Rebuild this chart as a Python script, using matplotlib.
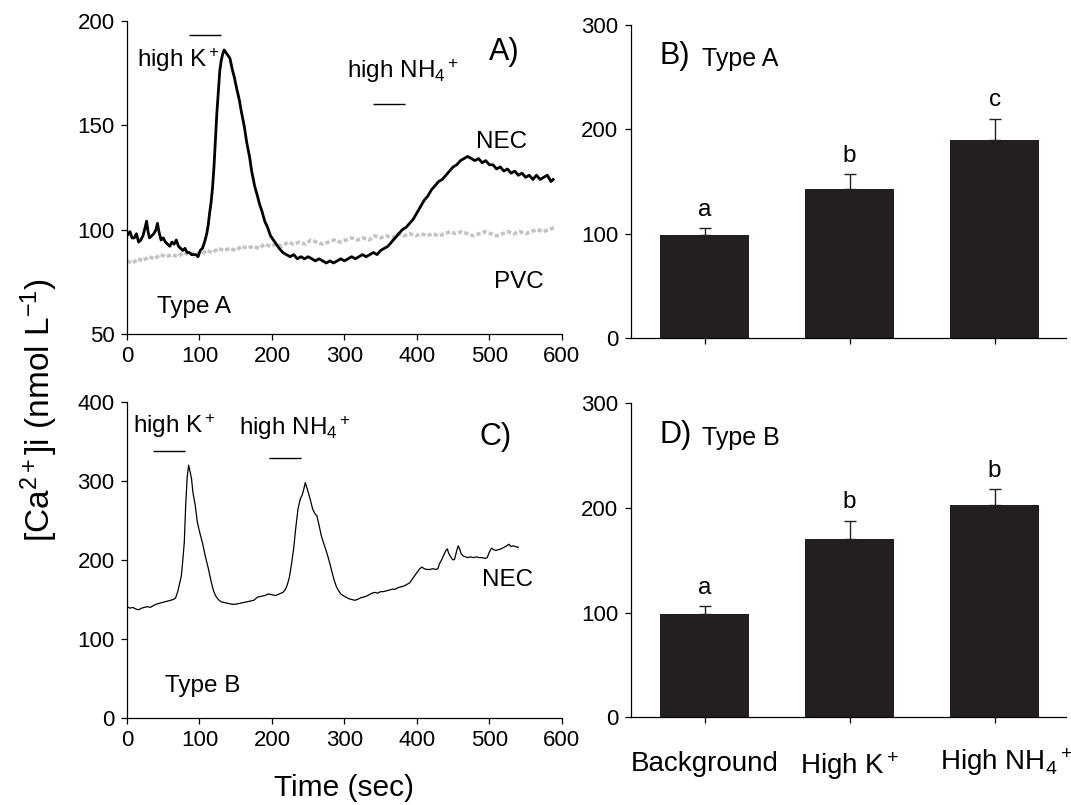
import numpy as np
import matplotlib.pyplot as plt
from matplotlib.transforms import ScaledTranslation

plt.rcParams["font.family"] = ["Liberation Sans", "DejaVu Sans"]
plt.rcParams["mathtext.fontset"] = "custom"
plt.rcParams["mathtext.rm"] = "Liberation Sans"
plt.rcParams["mathtext.it"] = "Liberation Sans:italic"
plt.rcParams["mathtext.default"] = "regular"

# Panel A: Type A cell, NEC (black) and PVC (grey) traces
time_a = [0, 4, 7, 10, 13, 16, 19, 22, 25, 27, 29, 31, 34, 37, 40, 42, 44, 47, 50, 53,
          56, 59, 62, 65, 68, 71, 74, 77, 80, 83, 86, 89, 92, 95, 98, 101, 104, 107, 110, 112,
          114, 116, 118, 120, 122, 124, 126, 128, 130, 132, 134, 136, 138, 140, 142, 145, 148, 151, 155, 158,
          162, 165, 169, 172, 176, 180, 183, 186, 190, 194, 198, 202, 206, 210, 215, 220, 225, 230, 235, 240,
          245, 250, 255, 260, 265, 270, 275, 280, 285, 290, 295, 300, 305, 310, 315, 320, 325, 330, 335, 340,
          345, 350, 355, 360, 365, 370, 375, 380, 385, 390, 395, 400, 405, 410, 415, 420, 425, 430, 435, 440,
          445, 450, 455, 460, 465, 470, 475, 480, 485, 490, 495, 500, 505, 510, 515, 520, 525, 530, 535, 540,
          545, 550, 555, 560, 565, 570, 575, 580, 585, 588]
nec_a = [97, 99, 96, 96, 98, 94, 95, 97, 101, 104, 99, 96, 97, 98, 100, 103, 99, 95, 96, 94,
         93, 92, 94, 93, 95, 92, 91, 90, 91, 89, 89, 88, 88, 88, 87, 90, 91, 94, 98, 102,
         108, 113, 120, 130, 143, 156, 166, 176, 181, 184, 186, 185, 184, 183, 182, 177, 173, 168, 162, 156,
         149, 142, 135, 128, 121, 116, 112, 109, 104, 101, 97, 95, 93, 91, 89, 88, 87, 88, 86, 87,
         86, 87, 86, 85, 86, 85, 84, 85, 84, 85, 86, 85, 86, 87, 86, 87, 88, 87, 88, 89,
         88, 90, 91, 92, 94, 96, 98, 100, 101, 103, 105, 108, 111, 114, 116, 119, 121, 123, 124, 126,
         128, 130, 131, 133, 134, 135, 134, 133, 134, 132, 133, 131, 131, 129, 130, 128, 129, 127, 128, 126,
         127, 125, 126, 124, 126, 124, 125, 126, 123, 124]
time_pvc = [0, 8, 15, 22, 30, 38, 46, 54, 62, 70, 78, 86, 94, 102, 110, 118, 126, 134, 142, 150,
            158, 166, 174, 182, 190, 198, 206, 214, 222, 230, 238, 246, 254, 262, 270, 278, 286, 294, 302, 310,
            318, 326, 334, 342, 350, 358, 366, 374, 382, 390, 398, 406, 414, 422, 430, 438, 446, 454, 462, 470,
            478, 486, 494, 502, 510, 518, 526, 534, 542, 550, 558, 566, 574, 582, 590]
pvc_a = [85, 84, 86, 85, 87, 86, 88, 87, 88, 87, 89, 88, 89, 88, 90, 89, 91, 90, 91, 90,
         92, 91, 92, 91, 93, 92, 93, 92, 94, 93, 94, 93, 95, 94, 93, 94, 95, 94, 95, 96,
         95, 96, 95, 97, 96, 97, 96, 98, 97, 98, 97, 98, 97, 98, 97, 98, 99, 98, 99, 98,
         97, 98, 99, 98, 97, 98, 99, 98, 99, 98, 99, 100, 99, 100, 101]

# Panel C: Type B cell, NEC trace
time_c = [0, 4, 8, 12, 16, 20, 24, 28, 32, 36, 40, 44, 48, 52, 56, 60, 64, 67, 70, 73,
          75, 77, 79, 81, 83, 85, 87, 89, 91, 94, 97, 100, 104, 108, 112, 116, 119, 122, 126, 130,
          135, 140, 145, 150, 155, 160, 165, 170, 175, 180, 185, 190, 195, 200, 205, 210, 215, 218, 221, 224,
          227, 230, 233, 236, 239, 242, 244, 246, 248, 250, 253, 256, 259, 262, 265, 268, 271, 274, 277, 280,
          283, 286, 289, 292, 295, 298, 302, 306, 310, 314, 318, 322, 326, 330, 334, 338, 342, 346, 350, 354,
          358, 362, 366, 370, 374, 378, 382, 386, 390, 393, 396, 400, 404, 407, 410, 414, 418, 422, 426, 429,
          431, 434, 437, 440, 442, 444, 446, 448, 450, 452, 455, 457, 459, 461, 464, 467, 470, 474, 478, 482,
          486, 490, 494, 497, 500, 503, 506, 509, 512, 516, 520, 524, 527, 530, 533, 536, 540]
nec_c = [141, 139, 140, 138, 137, 139, 140, 141, 140, 142, 144, 145, 146, 147, 148, 149, 150, 152, 160, 172,
         180, 200, 222, 270, 305, 320, 312, 303, 285, 270, 248, 236, 222, 205, 190, 173, 162, 155, 150, 147,
         146, 145, 144, 144, 145, 146, 147, 148, 149, 153, 154, 155, 157, 156, 155, 157, 159, 162, 168, 178,
         195, 215, 242, 265, 277, 283, 290, 298, 292, 286, 276, 265, 259, 256, 244, 231, 222, 214, 205, 195,
         184, 174, 166, 161, 157, 155, 153, 151, 150, 149, 150, 152, 153, 154, 156, 158, 159, 158, 160, 160,
         161, 162, 163, 163, 165, 166, 167, 169, 171, 175, 179, 184, 189, 191, 189, 188, 188, 189, 188, 189,
         195, 200, 206, 212, 214, 208, 205, 202, 200, 201, 212, 218, 214, 208, 205, 204, 203, 204, 203, 204,
         203, 203, 202, 203, 210, 215, 213, 212, 213, 214, 216, 218, 220, 217, 218, 217, 216]

# stimulus periods (sec)
stim_a = {"K": (86, 130), "NH4": (339, 383)}
stim_c = {"K": (36, 80), "NH4": (196, 240)}

# Panels B and D: mean [Ca2+]i
categories = ["Background", "High K$^+$", "High NH$_4$$^+$"]
type_a_mean = [99, 143, 190]
type_a_err = [6, 14, 20]
type_a_sig = ["a", "b", "c"]
type_b_mean = [99, 170, 203]
type_b_err = [7, 18, 15]
type_b_sig = ["a", "b", "b"]

fig = plt.figure(figsize=(10.71, 8.05), dpi=100)
ax_a = fig.add_axes([0.1186, 0.5851, 0.406, 0.3892])
ax_c = fig.add_axes([0.1186, 0.1081, 0.406, 0.3925])
ax_b = fig.add_axes([0.589, 0.5801, 0.406, 0.389])
ax_d = fig.add_axes([0.589, 0.1090, 0.406, 0.390])

fs_tick = 16
fs_note = 17.5

for ax in (ax_a, ax_b, ax_c, ax_d):
    for s in ("top", "right"):
        ax.spines[s].set_visible(False)
    for s in ("left", "bottom"):
        ax.spines[s].set_linewidth(0.9)
    ax.tick_params(direction="out", length=4, width=0.9, labelsize=fs_tick, pad=5)

# --- A
ax_a.plot(time_pvc, pvc_a, color="#c4c4c4", lw=2.6, ls=(0, (1.2, 0.6)))
ax_a.plot(time_a, nec_a, color="black", lw=2.0)
ax_a.set_xlim(0, 600)
ax_a.set_ylim(50, 200)
ax_a.set_xticks(np.arange(0, 601, 100))
ax_a.set_yticks([50, 100, 150, 200])
ax_a.hlines(193, *stim_a["K"], color="black", lw=1)
ax_a.hlines(160, *stim_a["NH4"], color="black", lw=1)
ax_a.text(14, 181, "high K$^+$", fontsize=fs_note, va="center")
ax_a.text(303, 176, "high NH$_4$$^+$", fontsize=fs_note, va="center")
ax_a.text(499, 185, "A)", fontsize=22, va="center")
ax_a.text(517, 142, "NEC", fontsize=fs_note, ha="center", va="center")
ax_a.text(541, 75, "PVC", fontsize=fs_note, ha="center", va="center")
ax_a.text(93, 63, "Type A", fontsize=fs_note, ha="center", va="center")

# --- C
ax_c.plot(time_c, nec_c, color="black", lw=0.9)
ax_c.set_xlim(0, 600)
ax_c.set_ylim(0, 400)
ax_c.set_xticks(np.arange(0, 601, 100))
ax_c.set_yticks(np.arange(0, 401, 100))
ax_c.hlines(338, *stim_c["K"], color="black", lw=1)
ax_c.hlines(329, *stim_c["NH4"], color="black", lw=1)
ax_c.text(8, 369, "high K$^+$", fontsize=fs_note, va="center")
ax_c.text(155, 367, "high NH$_4$$^+$", fontsize=fs_note, va="center")
ax_c.text(486, 356, "C)", fontsize=22, va="center")
ax_c.text(525, 175, "NEC", fontsize=fs_note, ha="center", va="center")
ax_c.text(104, 40, "Type B", fontsize=fs_note, ha="center", va="center")
ax_c.set_xlabel("Time (sec)", fontsize=21.5, labelpad=16)

fig.text(0.037, 0.49, "[Ca$^{2+}$]i (nmol L$^{-1}$)", rotation=90,
         fontsize=24, ha="center", va="center")

# --- B and D
def bar_panel(ax, means, errs, sig, letter, label, show_names):
    x = np.arange(len(means))
    ax.bar(x, means, width=0.614, color="#231f20")
    ax.errorbar(x, means, yerr=[np.zeros(len(errs)), errs], fmt="none",
                ecolor="#231f20", elinewidth=1, capsize=4, capthick=1)
    for xi, m, e, s in zip(x, means, errs, sig):
        ax.annotate(s, (xi, m + e), xytext=(0, 9), textcoords="offset points",
                    ha="center", va="baseline", fontsize=fs_note)
    ax.set_xlim(-0.51, 2.49)
    ax.set_ylim(0, 300)
    ax.set_yticks([0, 100, 200, 300])
    ax.set_xticks(x)
    if show_names:
        ax.set_xticklabels(categories, fontsize=20)
        ax.tick_params(axis="x", pad=20)
        last = ax.get_xticklabels()[-1]
        last.set_transform(last.get_transform() + ScaledTranslation(0.12, 0.04, fig.dpi_scale_trans))
    else:
        ax.set_xticklabels([])
    ax.text(0.067, 0.90, letter, transform=ax.transAxes, fontsize=22, va="center")
    ax.text(0.163, 0.89, label, transform=ax.transAxes, fontsize=18, va="center")

bar_panel(ax_b, type_a_mean, type_a_err, type_a_sig, "B)", "Type A", False)
bar_panel(ax_d, type_b_mean, type_b_err, type_b_sig, "D)", "Type B", True)

fig.savefig("out.png", dpi=100)
